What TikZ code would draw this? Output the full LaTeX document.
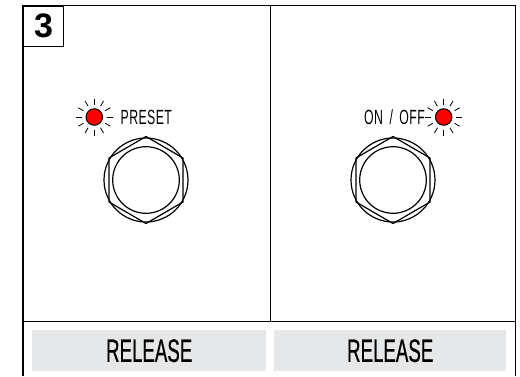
\documentclass[tikz,border=0pt]{standalone}
\usepackage{fontspec}
\setmainfont{Liberation Sans}
\newfontfamily\narrowf[FakeStretch=0.575,FakeBold=0.5]{Liberation Sans}
\newfontfamily\smallf[FakeStretch=0.6,LetterSpace=2]{Liberation Sans}
\newfontfamily\smallw[FakeStretch=0.6,LetterSpace=2,WordSpace=1.3]{Liberation Sans}
\definecolor{panelgray}{HTML}{E6E7E8}
\tikzset{x=1pt,y=-1pt,
 frameline/.style={draw=black,line width=1.1pt},
 labelgray/.style={fill=panelgray,draw=none,minimum height=41pt,inner sep=0pt},
 nut/.style={draw=black,line width=1.2pt},
 ray/.style={draw=black,line width=0.8pt},
 led/.style={circle,fill=red,draw=black,line width=1pt,minimum size=16.5pt,inner sep=0pt}}
\newcommand{\footsw}[2]{%
 \begin{scope}[shift={(#1,#2)}]
 \draw[nut] (0,0) circle (42);
 \draw[nut] (0,-43.5) -- (37,-22) -- (37,22) -- (0,43.5) -- (-37,22) -- (-37,-22) -- cycle;
 \draw[nut] (0,0) circle (33.3);
 \end{scope}}
\newcommand{\ledrays}[2]{%
 \begin{scope}[shift={(#1,#2)}]
 \foreach \a in {0,30,...,330}{\draw[ray] (\a:12.5) -- (\a:18.5);}
 \end{scope}}
\begin{document}
\begin{tikzpicture}
\useasboundingbox (0,0) rectangle (520,376);
\fill[white] (0,0) rectangle (520,376);
\node[labelgray,minimum width=234pt,anchor=north west] (lg) at (32,330) {};
\node[labelgray,minimum width=232pt,anchor=north west] (rg) at (274,330) {};
\node[font=\narrowf\fontsize{32.5}{33}\selectfont,inner sep=0pt] (lt) at (lg.center) {RELEASE};
\node[font=\narrowf\fontsize{32.5}{33}\selectfont,inner sep=0pt] (rt) at (rg.center) {RELEASE};
\draw[frameline] (23,376) -- (23,5.5) -- (515.5,5.5) -- (515.5,376);
\draw[frameline] (23,321.5) -- (515.5,321.5);
\draw[frameline] (270.5,5.5) -- (270.5,321.5);
\node[frameline,fill=white,minimum width=40pt,minimum height=40.5pt,inner sep=0pt,anchor=north west,font=\bfseries\fontsize{34}{34}\selectfont] (num) at (23,5.5) {3};
\footsw{146}{180}
\footsw{393}{180}
\ledrays{94.3}{117}
\ledrays{443.7}{117}
\node[led] (l1) at (94.3,117) {};
\node[led] (l2) at (443.7,117) {};
\node[font=\smallf\fontsize{20.5}{21}\selectfont,anchor=west,inner sep=0pt] (p) at (120.5,117) {PRESET};
\node[font=\smallw\fontsize{20.5}{21}\selectfont,anchor=east,inner sep=0pt] (o) at (425,117) {ON / OFF};
\end{tikzpicture}
\end{document}
